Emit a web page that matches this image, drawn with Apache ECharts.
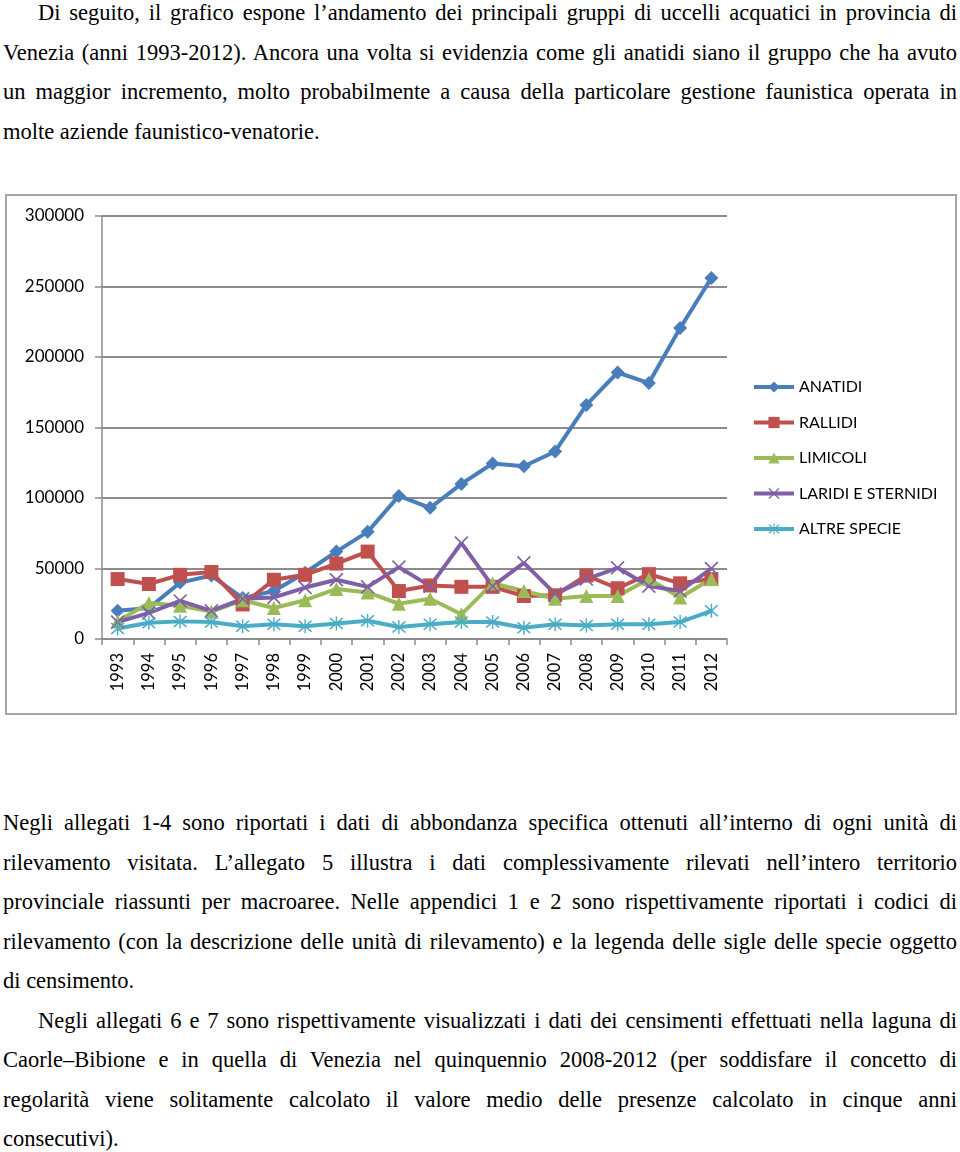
<!DOCTYPE html>
<html><head><meta charset="utf-8">
<script src="https://cdn.jsdelivr.net/npm/echarts@6/dist/echarts.min.js"></script>
<style>
html,body{margin:0;padding:0;background:#fff;}
body{width:960px;height:1152px;position:relative;overflow:hidden;font-family:"Liberation Serif","Times New Roman",serif;font-size:22.5px;color:#000;}
.txt{position:absolute;left:3px;width:954px;line-height:39.5px;}
.ln{display:block;text-align:justify;text-align-last:justify;white-space:nowrap;}
.last{text-align-last:left;}
.ind{text-indent:35px;}
#box{position:absolute;left:5px;top:194px;width:952px;height:521px;box-sizing:border-box;border:2px solid #a6a6a6;}
#chart{width:100%;height:100%;}
</style></head>
<body>
<div class="txt" style="top:-7px">
<span class="ln ind">Di seguito, il grafico espone l’andamento dei principali gruppi di uccelli acquatici in provincia di</span>
<span class="ln">Venezia (anni 1993-2012). Ancora una volta si evidenzia come gli anatidi siano il gruppo che ha avuto</span>
<span class="ln">un maggior incremento, molto probabilmente a causa della particolare gestione faunistica operata in</span>
<span class="ln last">molte aziende faunistico-venatorie.</span>
</div>
<div id="box"><div id="chart"></div></div>
<div class="txt" style="top:803px">
<span class="ln">Negli allegati 1-4 sono riportati i dati di abbondanza specifica ottenuti all’interno di ogni unità di</span>
<span class="ln">rilevamento visitata. L’allegato 5 illustra i dati complessivamente rilevati nell’intero territorio</span>
<span class="ln">provinciale riassunti per macroaree. Nelle appendici 1 e 2 sono rispettivamente riportati i codici di</span>
<span class="ln">rilevamento (con la descrizione delle unità di rilevamento) e la legenda delle sigle delle specie oggetto</span>
<span class="ln last">di censimento.</span>
<span class="ln ind">Negli allegati 6 e 7 sono rispettivamente visualizzati i dati dei censimenti effettuati nella laguna di</span>
<span class="ln">Caorle–Bibione e in quella di Venezia nel quinquennio 2008-2012 (per soddisfare il concetto di</span>
<span class="ln">regolarità viene solitamente calcolato il valore medio delle presenze calcolato in cinque anni</span>
<span class="ln last">consecutivi).</span>
</div>
<script>
const years = ['1993','1994','1995','1996','1997','1998','1999','2000','2001','2002','2003','2004','2005','2006','2007','2008','2009','2010','2011','2012'];
const anatidi = [20000,22000,40000,45000,29000,34000,47000,62000,76000,101500,93000,110000,124500,122500,133000,166000,189000,181500,220500,256000];
const rallidi = [42500,39000,45500,47500,24500,42000,45500,53500,62000,34000,38000,37000,37000,30500,31000,45000,36000,46000,39500,42500];
const limicoli = [12500,25500,23500,19500,27500,22000,27500,35500,33000,25000,28500,17500,39500,34000,28500,30500,30500,42500,29500,42500];
const laridi = [12000,18500,27000,20000,28500,29500,36500,42000,37000,51000,37500,68000,37500,54000,32000,42500,50500,37500,34000,50000];
const altre = [7500,11500,12500,12000,9000,10500,9000,11000,13000,8500,10500,12000,12000,8000,10500,9500,10500,10500,12000,20000];
const seriesNames = ['ANATIDI','RALLIDI','LIMICOLI','LARIDI E STERNIDI','ALTRE SPECIE'];
const yTicks = {min:0, max:300000, interval:50000};

const xPath = 'path://M1,0 L6,5 L11,0 L12,1 L7,6 L12,11 L11,12 L6,7 L1,12 L0,11 L5,6 L0,1 Z';
const starPath = 'path://M1,0 L6,5 L11,0 L12,1 L7,6 L12,11 L11,12 L6,7 L1,12 L0,11 L5,6 L0,1 Z M5.4,-1 L6.6,-1 L6.6,13 L5.4,13 Z';
const colors = ['#4a7ebb','#c0504d','#9bbb59','#7f5fa5','#4bacc6'];
const syms = ['diamond','rect','triangle',xPath,starPath];
const sizes = [14,14,14,14,14];
const datas = [anatidi,rallidi,limicoli,laridi,altre];

const chart = echarts.init(document.getElementById('chart'));
const font = 'Lato, "Open Sans", sans-serif';
chart.setOption({
  animation:false,
  color:colors,
  grid:{left:95,top:20,right:228,bottom:74},
  legend:{
    orient:'vertical', left:740, top:178, itemWidth:40, itemHeight:14, itemGap:19.5,
    lineStyle:{width:4},
    textStyle:{fontFamily:font,fontSize:16,color:'#000'},
    data:seriesNames
  },
  xAxis:{
    type:'category', data:years, boundaryGap:true,
    axisLine:{lineStyle:{color:'#8c8c8c',width:1.5}},
    axisTick:{show:true,length:6,lineStyle:{color:'#8c8c8c',width:1.5}},
    axisLabel:{rotate:90,margin:14,fontFamily:font,fontSize:16.5,color:'#000'}
  },
  yAxis:{
    type:'value', min:yTicks.min, max:yTicks.max, interval:yTicks.interval,
    axisLine:{show:true,lineStyle:{color:'#8c8c8c',width:1.5}},
    axisTick:{show:true,length:7,lineStyle:{color:'#8c8c8c',width:1.5}},
    splitLine:{lineStyle:{color:'#8c8c8c',width:2}},
    axisLabel:{margin:18,fontFamily:font,fontSize:17,color:'#000',formatter:v=>String(v)}
  },
  series:seriesNames.map((n,i)=>({
    name:n, type:'line', data:datas[i], symbol:syms[i], symbolSize:sizes[i],
    lineStyle:{width:4,color:colors[i]},
    itemStyle:{color:colors[i]}
  }))
});
</script>
</body></html>
